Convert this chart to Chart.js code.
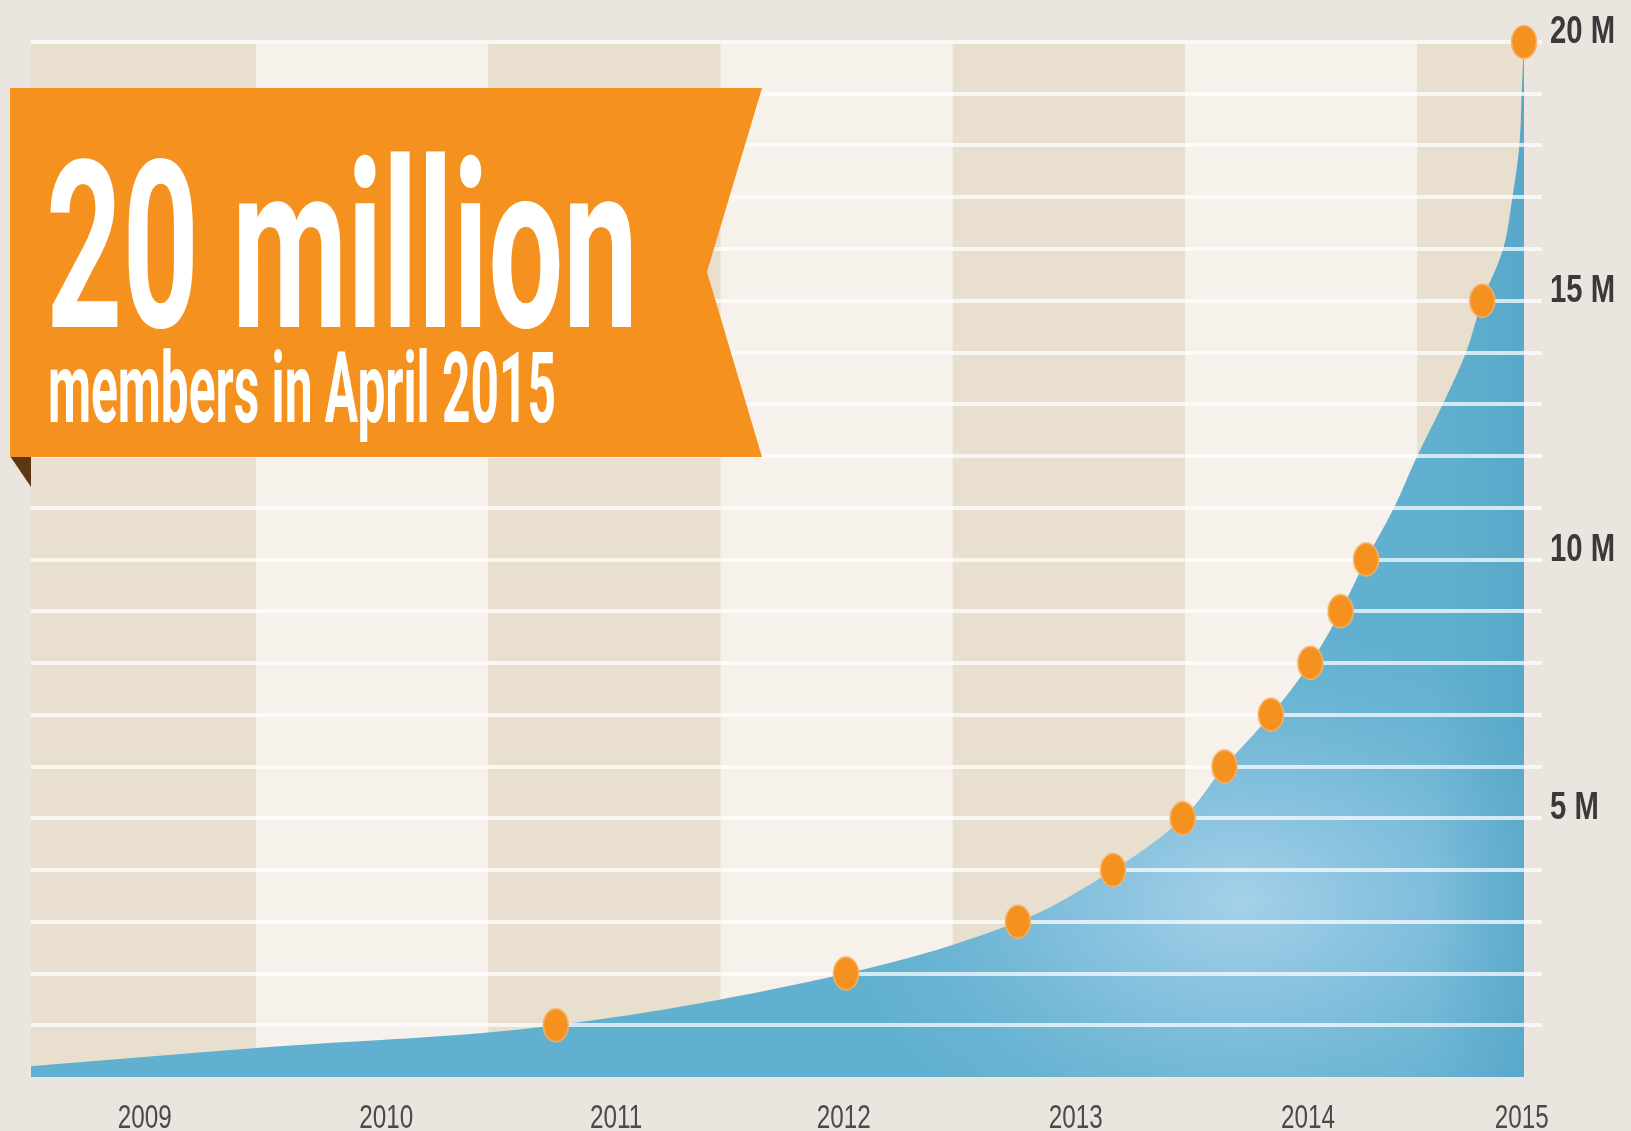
<!DOCTYPE html>
<html>
<head>
<meta charset="utf-8">
<title>20 million members</title>
<script src="https://cdn.jsdelivr.net/npm/chart.js@4.4.1/dist/chart.umd.min.js"></script>
<style>
  html, body { margin: 0; padding: 0; background: #ebe5df; }
  #wrap { position: relative; width: 1631px; height: 1131px; }
</style>
</head>
<body>
<div id="wrap"><canvas id="growthChart" width="1631" height="1131"></canvas></div>
<script>
// members in millions, x = decimal year
const dotYears = [2011.29, 2012.54, 2013.28, 2013.69, 2013.99, 2014.17, 2014.37, 2014.54, 2014.67, 2014.78, 2015.28, 2015.46];
const dotMembers = [1, 2, 3, 4, 5, 6, 7, 8, 9, 10, 15, 20];

// outline of the blue area (includes the dots plus a few in-between points)
const curveYears = [2009.03, 2010.0, 2011.29, 2012.54, 2013.28, 2013.69, 2013.99, 2014.17, 2014.37, 2014.54, 2014.67, 2014.78, 2014.90, 2015.00, 2015.11, 2015.21, 2015.28, 2015.37, 2015.41, 2015.44, 2015.45, 2015.46];
const curveMembers = [0.21, 0.56, 1, 2, 3, 4, 5, 6, 7, 8, 9, 10, 11, 12, 13, 14, 15, 16, 17, 18, 19, 20];

const yearLabels = ['2009', '2010', '2011', '2012', '2013', '2014', '2015'];
const yearLabelPos = [2009.52, 2010.56, 2011.55, 2012.53, 2013.53, 2014.53, 2015.45];
const bandYears = [2009, 2010, 2011, 2012, 2013, 2014, 2015];
const memberLabelEvery = 5;

const xMin = 2009.03;
const xMax = 2015.46;
const yMax = 20;

const axisFont = '"Liberation Sans", Arial, "DejaVu Sans", sans-serif';
const bannerFont = 'Roboto, "Liberation Sans", Arial, sans-serif';

function makeDot() {
  const c = document.createElement('canvas');
  c.width = 28;
  c.height = 36;
  const g = c.getContext('2d');
  g.beginPath();
  g.ellipse(14, 18, 12.5, 16.5, 0, 0, Math.PI * 2);
  g.fillStyle = '#f4911f';
  g.fill();
  g.lineWidth = 1.5;
  g.strokeStyle = '#f7b46a';
  g.stroke();
  return c;
}

let fillPattern = null;
function blueFill(context) {
  const chart = context.chart;
  const area = chart.chartArea;
  if (!area) return '#62b0cf';
  if (fillPattern) return fillPattern;
  const c = document.createElement('canvas');
  c.width = chart.width;
  c.height = chart.height;
  const g = c.getContext('2d');
  g.fillStyle = '#62b0cf';
  g.fillRect(0, 0, c.width, c.height);
  // soft light spot low on the right
  g.save();
  g.translate(area.left + area.width * 0.81, area.bottom - area.height * 0.17);
  g.scale(1.45, 1);
  const rg = g.createRadialGradient(0, 0, 0, 0, 0, 270);
  rg.addColorStop(0, 'rgba(165,209,233,1)');
  rg.addColorStop(0.45, 'rgba(140,196,225,0.75)');
  rg.addColorStop(1, 'rgba(120,186,218,0)');
  g.fillStyle = rg;
  g.fillRect(-1200, -1200, 2400, 2400);
  g.restore();
  // slightly darker strip along the right edge
  const lg = g.createLinearGradient(area.right - 90, 0, area.right, 0);
  lg.addColorStop(0, 'rgba(80,160,196,0)');
  lg.addColorStop(1, 'rgba(80,160,196,0.5)');
  g.fillStyle = lg;
  g.fillRect(area.right - 90, 0, 90, c.height);
  fillPattern = chart.ctx.createPattern(c, 'no-repeat');
  return fillPattern;
}

// alternating year columns behind the area
const yearBands = {
  id: 'yearBands',
  beforeDatasetsDraw(chart) {
    const { ctx, chartArea, scales } = chart;
    ctx.save();
    bandYears.forEach((yr, i) => {
      const x0 = Math.max(chartArea.left, scales.x.getPixelForValue(yr));
      const x1 = Math.min(chartArea.right, scales.x.getPixelForValue(yr + 1));
      if (x1 <= x0) return;
      ctx.fillStyle = i % 2 === 0 ? '#e9dfce' : '#f6f1eb';
      ctx.fillRect(x0, chartArea.top, x1 - x0, chartArea.bottom - chartArea.top);
    });
    ctx.restore();
  }
};

// white rules go over the blue area but under the dots
const memberRules = {
  id: 'memberRules',
  beforeDatasetDraw(chart, args) {
    if (args.index !== 0) return;
    const { ctx, chartArea, scales } = chart;
    ctx.save();
    ctx.strokeStyle = 'rgba(255,255,255,0.72)';
    ctx.lineWidth = 4;
    scales.y.ticks.forEach(t => {
      if (t.value <= 0) return;
      const y = Math.round(scales.y.getPixelForValue(t.value));
      ctx.beginPath();
      ctx.moveTo(chartArea.left, y);
      ctx.lineTo(chartArea.right + 18, y);
      ctx.stroke();
    });
    ctx.restore();
  }
};

// draws text squeezed horizontally, like the condensed face in the original
function narrowText(ctx, text, x, baseline, sx, align) {
  const w = ctx.measureText(text).width * sx;
  let left = x;
  if (align === 'center') left = x - w / 2;
  ctx.save();
  ctx.translate(left, baseline);
  ctx.scale(sx, 1);
  ctx.fillText(text, 0, 0);
  ctx.restore();
}

// tick labels in a condensed look, placed from the scales' own ticks
const axisLabels = {
  id: 'axisLabels',
  afterDraw(chart) {
    const { ctx, chartArea, scales } = chart;
    ctx.save();
    ctx.textBaseline = 'alphabetic';
    ctx.textAlign = 'left';

    ctx.fillStyle = '#4a4a4a';
    ctx.font = '34px ' + axisFont;
    const sxX = 54 / ctx.measureText('2009').width;
    scales.x.ticks.forEach((t, i) => {
      narrowText(ctx, yearLabels[i], scales.x.getPixelForValue(t.value), 1128, sxX, 'center');
    });

    ctx.fillStyle = '#3a3a3a';
    ctx.font = 'bold 39px ' + axisFont;
    const sxY = 65 / ctx.measureText('20 M').width;
    scales.y.ticks.forEach(t => {
      if (t.value <= 0 || t.value % memberLabelEvery !== 0) return;
      const y = scales.y.getPixelForValue(t.value);
      narrowText(ctx, t.value + ' M', chartArea.right + 26, y + 1, sxY, 'left');
    });
    ctx.restore();
  }
};

function fitText(ctx, text, x, baseline, width, size) {
  ctx.font = 'bold ' + size + 'px ' + bannerFont;
  const w = ctx.measureText(text).width;
  ctx.save();
  ctx.translate(x, baseline);
  ctx.scale(width / w, 1);
  ctx.fillText(text, 0, 0);
  ctx.restore();
}

// orange ribbon with the headline
const ribbon = {
  id: 'ribbon',
  afterDraw(chart) {
    const ctx = chart.ctx;
    ctx.save();
    ctx.fillStyle = '#5b3813';
    ctx.beginPath();
    ctx.moveTo(10, 456);
    ctx.lineTo(31, 456);
    ctx.lineTo(31, 487);
    ctx.closePath();
    ctx.fill();

    ctx.fillStyle = '#f5921f';
    ctx.beginPath();
    ctx.moveTo(10, 88);
    ctx.lineTo(762, 88);
    ctx.lineTo(707, 272);
    ctx.lineTo(762, 457);
    ctx.lineTo(10, 457);
    ctx.closePath();
    ctx.fill();

    ctx.fillStyle = '#ffffff';
    ctx.textBaseline = 'alphabetic';
    ctx.textAlign = 'left';
    fitText(ctx, '20 million', 46, 327, 592, 234);
    fitText(ctx, 'members in April 2015', 48, 422, 508, 98);
    ctx.restore();
  }
};

function drawChart() {
  const ctx = document.getElementById('growthChart').getContext('2d');
  Chart.defaults.font.family = axisFont;

  new Chart(ctx, {
    type: 'line',
    data: {
      datasets: [
        {
          label: 'Milestones',
          data: dotYears.map((x, i) => ({ x: x, y: dotMembers[i] })),
          showLine: false,
          pointStyle: makeDot(),
          pointRadius: 14,
          pointHoverRadius: 14,
          clip: false
        },
        {
          label: 'Members',
          data: curveYears.map((x, i) => ({ x: x, y: curveMembers[i] })),
          fill: 'origin',
          backgroundColor: blueFill,
          borderColor: 'rgba(0,0,0,0)',
          borderWidth: 1,
          pointRadius: 0,
          tension: 0.35
        }
      ]
    },
    options: {
      responsive: false,
      animation: false,
      events: [],
      layout: { padding: { left: 31, top: 42, right: 0, bottom: 0 } },
      plugins: {
        legend: { display: false },
        tooltip: { enabled: false }
      },
      scales: {
        x: {
          type: 'linear',
          min: xMin,
          max: xMax,
          grid: { display: false, drawTicks: false },
          border: { display: false },
          afterBuildTicks: scale => { scale.ticks = yearLabelPos.map(v => ({ value: v })); },
          afterFit: scale => { scale.height = 54; },
          ticks: { display: false, autoSkip: false }
        },
        y: {
          position: 'right',
          min: 0,
          max: yMax,
          grid: { display: false, drawTicks: false },
          border: { display: false },
          afterFit: scale => { scale.width = 107; },
          ticks: { display: false, stepSize: 1 }
        }
      }
    },
    plugins: [yearBands, memberRules, axisLabels, ribbon]
  });
}

drawChart();
</script>
</body>
</html>
